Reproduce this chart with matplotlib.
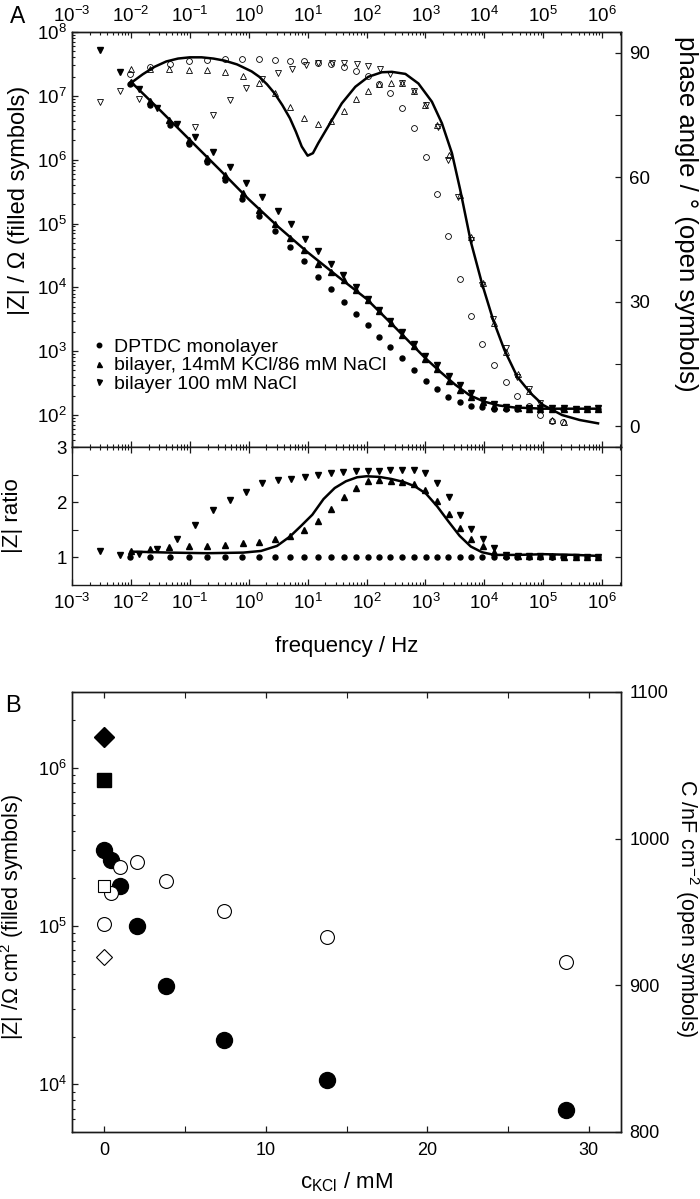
import numpy as np
import matplotlib
matplotlib.use('Agg')
import matplotlib.pyplot as plt
from matplotlib.ticker import LogLocator, NullFormatter, FixedLocator

plt.rcParams['font.family'] = ['Liberation Sans', 'DejaVu Sans']
plt.rcParams['mathtext.fontset'] = 'custom'
plt.rcParams['mathtext.rm'] = 'Liberation Sans'
plt.rcParams['mathtext.it'] = 'Liberation Sans:italic'
plt.rcParams['mathtext.bf'] = 'Liberation Sans:bold'
plt.rcParams['axes.unicode_minus'] = False

# ---- panel A data (log10 of frequency / Hz) ----
# DPTDC monolayer
logf_mono = [-2.01, -1.67, -1.34, -1.02, -0.71, -0.41, -0.11, 0.18, 0.44, 0.70,
             0.94, 1.18, 1.40, 1.62, 1.82, 2.02, 2.22, 2.40, 2.60, 2.80,
             3.01, 3.20, 3.39, 3.58, 3.77, 3.96, 4.17, 4.36, 4.56, 4.75,
             4.94, 5.15, 5.34, 5.55, 5.75, 5.93]
logz_mono = [7.18, 6.86, 6.55, 6.25, 5.96, 5.68, 5.39, 5.12, 4.88, 4.63,
             4.41, 4.17, 3.97, 3.77, 3.59, 3.41, 3.23, 3.07, 2.89, 2.71,
             2.53, 2.41, 2.29, 2.21, 2.15, 2.12, 2.10, 2.09, 2.09, 2.09,
             2.09, 2.09, 2.09, 2.09, 2.09, 2.09]
ratio_mono = [1.0, 1.0, 1.0, 1.0, 1.0, 1.0, 1.0, 1.0, 1.0, 1.0,
              1.0, 1.0, 1.0, 1.0, 1.0, 1.0, 1.0, 1.0, 1.0, 1.0,
              1.0, 1.0, 1.0, 1.0, 1.0, 1.0, 1.0, 1.0, 1.0, 1.0,
              1.0, 1.0, 1.0, 1.0, 1.0, 1.0]
phase_mono = [85.0, 86.5, 87.3, 87.9, 88.3, 88.5, 88.5, 88.4, 88.3, 88.1,
              87.9, 87.6, 87.4, 86.6, 85.7, 84.4, 82.5, 80.2, 76.6, 71.8,
              64.8, 56.0, 45.8, 35.5, 26.6, 19.8, 14.8, 10.7, 7.4, 4.9,
              2.7, 1.3, 1.1]

# bilayer, 14 mM KCl / 86 mM NaCl
logf_kcl = [-2.0, -1.67, -1.35, -1.02, -0.7, -0.4, -0.1, 0.18, 0.44, 0.7,
            0.94, 1.18, 1.4, 1.61, 1.82, 2.02, 2.22, 2.41, 2.6, 2.8,
            3.0, 3.2, 3.4, 3.58, 3.78, 3.97, 4.17, 4.37, 4.57, 4.76,
            4.95, 5.15, 5.35, 5.55, 5.75, 5.93]
logz_kcl = [7.22, 6.92, 6.62, 6.31, 6.03, 5.76, 5.48, 5.21, 5.00, 4.77,
            4.58, 4.37, 4.24, 4.11, 3.96, 3.81, 3.63, 3.45, 3.26, 3.08,
            2.88, 2.72, 2.54, 2.40, 2.28, 2.20, 2.14, 2.12, 2.11, 2.10,
            2.10, 2.10, 2.10, 2.10, 2.10, 2.10]
ratio_kcl = [1.12, 1.15, 1.19, 1.20, 1.21, 1.23, 1.26, 1.28, 1.34, 1.39,
             1.50, 1.66, 1.88, 2.09, 2.26, 2.38, 2.41, 2.39, 2.37, 2.33,
             2.23, 2.03, 1.79, 1.53, 1.34, 1.20, 1.09, 1.05, 1.03, 1.02,
             1.02, 1.02, 1.01, 1.0, 1.0, 1.0]
phase_kcl = [86.0, 86.2, 86.0, 85.8, 85.8, 85.3, 84.4, 82.6, 80.2, 77.0,
             74.2, 72.8, 73.6, 76.0, 78.8, 80.9, 82.5, 82.8, 82.6, 80.9,
             77.4, 72.6, 65.4, 55.7, 45.5, 34.5, 25.0, 18.0, 12.5, 8.5,
             5.0, 1.5, 1.0]

# bilayer, 100 mM NaCl
logf_nacl = [-2.53, -2.19, -1.87, -1.55, -1.21, -0.91, -0.6, -0.32, -0.04, 0.23,
             0.5, 0.72, 0.95, 1.18, 1.4, 1.6, 1.82, 2.02, 2.22, 2.4,
             2.6, 2.8, 3.0, 3.2, 3.4, 3.58, 3.78, 3.98, 4.17, 4.37,
             4.57, 4.76, 4.95, 5.15, 5.35, 5.55, 5.75, 5.93]
logz_nacl = [7.72, 7.38, 7.10, 6.81, 6.56, 6.35, 6.12, 5.89, 5.64, 5.41,
             5.20, 4.99, 4.76, 4.57, 4.37, 4.19, 4.00, 3.82, 3.64, 3.48,
             3.30, 3.12, 2.93, 2.78, 2.61, 2.47, 2.34, 2.24, 2.17, 2.12,
             2.11, 2.11, 2.11, 2.11, 2.11, 2.10, 2.10, 2.11]
ratio_nacl = [1.12, 1.05, 1.07, 1.16, 1.34, 1.59, 1.86, 2.04, 2.19, 2.34,
              2.40, 2.42, 2.46, 2.49, 2.52, 2.54, 2.56, 2.57, 2.57, 2.58,
              2.59, 2.58, 2.52, 2.35, 2.09, 1.77, 1.51, 1.33, 1.17, 1.05,
              1.03, 1.02, 1.02, 1.01, 1.01, 1.0, 1.0, 1.0]
logf_nacl_ph = [-2.53, -2.19, -1.87, -0.91, -0.6, -0.32, -0.04, 0.22, 0.49, 0.73,
                0.97, 1.18, 1.41, 1.62, 1.83, 2.02, 2.23, 2.40, 2.60, 2.80,
                3.01, 3.21, 3.39, 3.56, 3.77, 3.96, 4.15, 4.36, 4.56, 4.75,
                4.95]
phase_nacl = [78.2, 80.9, 78.9, 72.0, 75.0, 78.6, 81.4, 83.7, 85.2, 86.2,
              87.1, 87.5, 87.6, 87.5, 87.3, 86.9, 86.2, 85.0, 82.6, 80.9,
              77.4, 72.0, 64.2, 55.3, 44.9, 34.0, 25.8, 18.8, 11.9, 8.9,
              5.7]

# model fits
logf_fitz = [-2.0, -1.5, -1.0, -0.5, 0.0, 0.5, 1.0, 1.5, 2.0, 2.5,
             3.0, 3.25, 3.5, 3.75, 4.0, 4.25, 4.5, 5.0, 5.5, 5.93]
logz_fit = [7.22, 6.77, 6.31, 5.85, 5.38, 4.95, 4.55, 4.18, 3.82, 3.36,
            2.89, 2.68, 2.48, 2.31, 2.21, 2.15, 2.12, 2.10, 2.10, 2.10]
logf_fitp = [-2.01, -1.8, -1.6, -1.4, -1.2, -1.0, -0.8, -0.6, -0.41, -0.2,
             -0.11, 0.05, 0.18, 0.31, 0.44, 0.57, 0.70, 0.80, 0.90, 1.0,
             1.09, 1.18, 1.38, 1.58, 1.81, 2.03, 2.26, 2.43, 2.66, 2.88,
             3.11, 3.28, 3.45, 3.59, 3.77, 3.96, 4.15, 4.34, 4.56, 4.79,
             5.0, 5.32, 5.62, 5.93]
phase_fit = [82.6, 84.8, 86.6, 87.9, 88.6, 88.9, 88.9, 88.6, 88.1, 87.2,
             86.6, 85.5, 84.2, 82.4, 80.2, 77.4, 74.2, 71.0, 67.4, 65.2,
             65.8, 68.2, 73.0, 77.8, 81.8, 84.2, 85.3, 85.4, 84.9, 82.6,
             78.2, 73.0, 65.8, 57.0, 44.5, 34.4, 25.6, 18.4, 11.9, 7.9,
             5.1, 2.7, 1.5, 0.7]
logf_fitr = [-2.0, -1.34, -0.70, -0.09, 0.21, 0.48, 0.70, 0.89, 1.08, 1.27,
             1.46, 1.65, 1.84, 2.00, 2.22, 2.42, 2.63, 2.82, 3.01, 3.20,
             3.39, 3.58, 3.77, 3.96, 4.17, 4.56, 5.02, 5.55, 5.93]
ratio_fit = [1.105, 1.087, 1.076, 1.087, 1.117, 1.208, 1.378, 1.572, 1.773, 2.057,
             2.257, 2.379, 2.452, 2.470, 2.458, 2.421, 2.367, 2.288, 2.155, 1.924,
             1.652, 1.391, 1.197, 1.094, 1.045, 1.045, 1.058, 1.045, 1.027]

# ---- panel B data ----
c_kcl = [0.0, 0.4, 1.0, 2.0, 3.8, 7.4, 13.8, 28.6]
z_circ = [3.0e5, 2.6e5, 1.8e5, 1.0e5, 4.2e4, 1.9e4, 1.07e4, 6.9e3]
cap_circ = [942, 963, 981, 984, 971, 951, 933, 916]
c_other = [0.0]
z_square = [8.3e5]
cap_square = [968]
z_diamond = [1.55e6]
cap_diamond = [919]

TSA = 13.5   # tick labels, panel A
TSB = 13     # tick labels, panel B
INK = '#1a1a1a'


def f(v):
    return 10 ** np.array(v)


def style(ax, ts):
    for s in ax.spines.values():
        s.set_color(INK)
        s.set_linewidth(1.0)
    ax.tick_params(which='major', direction='in', length=4.5, width=0.9,
                   colors=INK, labelcolor='black', labelsize=ts)
    ax.tick_params(which='minor', direction='in', length=2.5, width=0.8,
                   colors=INK)


def logx(ax):
    ax.xaxis.set_major_locator(LogLocator(base=10, numticks=20))
    ax.xaxis.set_minor_locator(LogLocator(base=10, subs=np.arange(2, 10), numticks=200))
    ax.xaxis.set_minor_formatter(NullFormatter())


fig = plt.figure(figsize=(7, 11.99), dpi=100)
L, W = 72 / 700, 549 / 700
axA = fig.add_axes([L, 1 - 447 / 1199, W, 415 / 1199])
axP = axA.twinx()
axR = fig.add_axes([L, 1 - 585 / 1199, W, 138 / 1199], sharex=axA)
axB = fig.add_axes([L, 1 - 1132 / 1199, W, 440 / 1199])
axC = axB.twinx()

# |Z| (filled) and fits
axA.plot(f(logf_mono), f(logz_mono), 'o', color='k', ms=3.6, ls='none',
         label='DPTDC monolayer')
axA.plot(f(logf_kcl), f(logz_kcl), '^', color='k', ms=4.0, ls='none',
         label='bilayer, 14mM KCl/86 mM NaCl')
axA.plot(f(logf_nacl), f(logz_nacl), 'v', color='k', ms=4.0, ls='none',
         label='bilayer 100 mM NaCl')
axA.plot(f(logf_fitz), f(logz_fit), '-', color='k', lw=1.8)
axA.set_xscale('log')
axA.set_yscale('log')
axA.set_xlim(1e-3, 10 ** 6.32)
axA.set_ylim(10 ** 1.5, 1e8)
logx(axA)
axA.yaxis.set_major_locator(LogLocator(base=10, numticks=20))
axA.yaxis.set_minor_locator(LogLocator(base=10, subs=np.arange(2, 10), numticks=200))
axA.yaxis.set_minor_formatter(NullFormatter())
style(axA, TSA)
axA.tick_params(axis='x', which='both', top=True, bottom=True,
                labeltop=True, labelbottom=False)
axA.tick_params(axis='x', which='major', pad=4)
axA.tick_params(axis='y', which='both', left=True, right=False)
axA.set_ylabel('|Z| / Ω (filled symbols)', fontsize=17)
axA.yaxis.set_label_coords(-0.077, 0.595)
leg = axA.legend(loc='lower left', bbox_to_anchor=(0.035, 0.13), frameon=False,
                 fontsize=14, handlelength=0.8, handletextpad=0.35,
                 labelspacing=0.05, borderpad=0, borderaxespad=0, markerscale=0.9)

# phase (open symbols)
kw = dict(ls='none', mfc='none', mec='k', mew=0.6, ms=4.2)
axP.plot(f(logf_mono[:len(phase_mono)]), phase_mono, 'o', **kw)
axP.plot(f(logf_kcl[:len(phase_kcl)]), phase_kcl, '^', **kw)
axP.plot(f(logf_nacl_ph), phase_nacl, 'v', **kw)
axP.plot(f(logf_fitp), phase_fit, '-', color='k', lw=1.8)
axP.set_ylim(-5, 95)
axP.yaxis.set_major_locator(FixedLocator([0, 30, 60, 90]))
axP.yaxis.set_minor_locator(FixedLocator([15, 45, 75]))
style(axP, TSA)
axP.tick_params(axis='y', which='minor', length=4.5)
axP.tick_params(axis='y', which='both', pad=6)
axP.set_ylabel('phase angle / ° (open symbols)', fontsize=18.5, rotation=270,
               va='bottom')
axP.yaxis.set_label_coords(1.096, 0.563)

# ratio panel
axR.plot(f(logf_mono), ratio_mono, 'o', color='k', ms=3.6, ls='none')
axR.plot(f(logf_kcl), ratio_kcl, '^', color='k', ms=4.0, ls='none')
axR.plot(f(logf_nacl), ratio_nacl, 'v', color='k', ms=4.0, ls='none')
axR.plot(f(logf_fitr), ratio_fit, '-', color='k', lw=1.8)
axR.set_ylim(0.5, 3)
axR.yaxis.set_major_locator(FixedLocator([1, 2, 3]))
axR.yaxis.set_minor_locator(FixedLocator([1.5, 2.5]))
style(axR, TSA)
axR.tick_params(axis='y', which='minor', length=4.5)
axR.tick_params(which='both', top=True, right=True, bottom=True, left=True)
axR.tick_params(axis='x', which='major', pad=6)
axR.set_ylabel('|Z| ratio', fontsize=16)
axR.yaxis.set_label_coords(-0.089, 0.5)
axR.set_xlabel('frequency / Hz', fontsize=16)
axR.xaxis.set_label_coords(0.5, -0.37)
logx(axR)
axR.set_xlim(1e-3, 10 ** 6.32)

# ---- panel B ----
axB.plot(c_kcl, z_circ, 'o', color='k', ms=11.5, ls='none')
axB.plot(c_other, z_square, 's', color='k', ms=10, ls='none')
axB.plot(c_other, z_diamond, 'D', color='k', ms=10, ls='none')
axB.set_yscale('log')
axB.set_xlim(-2, 32)
axB.set_ylim(5e3, 3e6)
axB.xaxis.set_major_locator(FixedLocator([0, 10, 20, 30]))
axB.xaxis.set_minor_locator(FixedLocator([5, 15, 25]))
axB.yaxis.set_major_locator(LogLocator(base=10, numticks=20))
axB.yaxis.set_minor_locator(LogLocator(base=10, subs=np.arange(2, 10), numticks=200))
axB.yaxis.set_minor_formatter(NullFormatter())
style(axB, TSB)
axB.tick_params(axis='x', which='minor', length=4.5)
axB.tick_params(axis='x', which='both', top=True, bottom=True, pad=7)
axB.tick_params(axis='y', which='both', left=True, right=False)
axB.set_xlabel(r'c$_{\mathrm{KCl}}$ / mM', fontsize=16)
axB.xaxis.set_label_coords(0.5, -0.088)
axB.set_ylabel(r'|Z| /Ω cm$^{2}$ (filled symbols)', fontsize=15.5)
axB.yaxis.set_label_coords(-0.083, 0.489)

okw = dict(ls='none', mfc='white', mec='k', mew=0.8)
axC.plot(c_kcl, cap_circ, 'o', ms=10, **okw)
axC.plot(c_other, cap_square, 's', ms=8.5, **okw)
axC.plot(c_other, cap_diamond, 'D', ms=8, **okw)
axC.set_ylim(800, 1100)
axC.yaxis.set_major_locator(FixedLocator([800, 900, 1000, 1100]))
style(axC, TSB)
axC.tick_params(axis='y', which='both', pad=6)
axC.set_ylabel(r'C /nF cm$^{-2}$ (open symbols)', fontsize=15.5, rotation=270,
               va='bottom')
axC.yaxis.set_label_coords(1.095, 0.509)

fig.text(0.014, 1 - 23 / 1199, 'A', fontsize=16.5, ha='left', va='baseline')
fig.text(0.007, 1 - 712 / 1199, 'B', fontsize=17, ha='left', va='baseline')

fig.savefig('out.png', dpi=100)
